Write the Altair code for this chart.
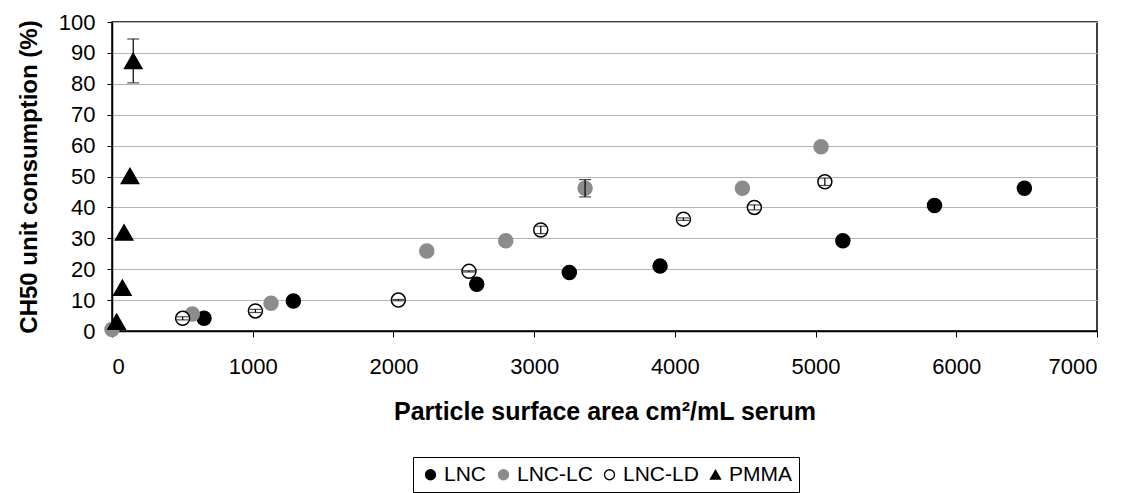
import altair as alt
import pandas as pd

# ---- data ----
series_names = ["LNC", "LNC-LC", "LNC-LD", "PMMA"]

lnc_x = [654, 1289, 2592, 3250, 3895, 5194, 5845, 6484]
lnc_y = [4.1, 9.7, 15.1, 18.9, 21.0, 29.2, 40.6, 46.2]
lnc_err = [0, 0, 0, 0, 0, 0, 0, 0]

lc_x = [0, 571, 1130, 2237, 2798, 3362, 4480, 5039]
lc_y = [0.5, 5.5, 9.0, 25.9, 29.2, 46.2, 46.2, 59.6]
lc_err = [0, 0, 0, 0, 0, 2.8, 0, 0]

ld_x = [502, 1019, 2035, 2537, 3047, 4061, 4565, 5066]
ld_y = [4.1, 6.5, 10.0, 19.3, 32.7, 36.2, 40.0, 48.3]
ld_err = [0.5, 0.5, 0.2, 0.2, 1.2, 0.4, 0.8, 1.2]

pmma_x = [33, 74, 86, 128, 151]
pmma_y = [3.0, 14.0, 31.9, 50.2, 87.4]
pmma_err = [0, 0, 0, 0, 7.1]

x_ticks = [0, 1000, 2000, 3000, 4000, 5000, 6000, 7000]
y_ticks = [0, 10, 20, 30, 40, 50, 60, 70, 80, 90, 100]

rows = []
for name, xs, ys, es in [
    ("LNC", lnc_x, lnc_y, lnc_err),
    ("LNC-LC", lc_x, lc_y, lc_err),
    ("LNC-LD", ld_x, ld_y, ld_err),
    ("PMMA", pmma_x, pmma_y, pmma_err),
]:
    for i, (x, y, e) in enumerate(zip(xs, ys, es)):
        rows.append({"series": name, "x": x, "y": y, "lo": y - e, "hi": y + e,
                     "err": e, "order": len(rows)})
df = pd.DataFrame(rows)
err_df = df[df["err"] > 0]
circ_df = df[df["series"] != "PMMA"]
tri_df = df[df["series"] == "PMMA"]

FONT = "Liberation Sans"

xscale = alt.Scale(domain=[0, 7000], nice=False, zero=False)
yscale = alt.Scale(domain=[0, 100], nice=False)

x_axis = alt.Axis(values=x_ticks, title="Particle surface area cm²/mL serum",
                  grid=False, tickSize=6, labelPadding=19, titlePadding=22,
                  format="d", labelOverlap=False, titleFontSize=25)
y_axis = alt.Axis(values=y_ticks, title="CH50 unit consumption (%)",
                  grid=True, tickSize=5, labelPadding=12, titlePadding=17,
                  labelOverlap=False, titleFontSize=24)


def X(field):
    return alt.X(field, scale=xscale, axis=x_axis)


def Y(field):
    return alt.Y(field, scale=yscale, axis=y_axis)


legend = alt.Legend(
    title=None, orient="none", legendX=301, legendY=435, direction="horizontal",
    strokeColor="black", padding=7, labelFont=FONT, labelFontSize=21,
    labelColor="black", symbolSize=100, columnPadding=6, symbolStrokeWidth=1.3,
    labelOffset=3,
)

style_enc = dict(
    shape=alt.Shape("series:N", scale=alt.Scale(domain=series_names,
                    range=["circle", "circle", "circle", "triangle-up"]),
                    legend=legend),
    fill=alt.Fill("series:N", scale=alt.Scale(domain=series_names,
                  range=["#000000", "#8c8c8c", "#ffffff", "#000000"]),
                  legend=legend),
    stroke=alt.Stroke("series:N", scale=alt.Scale(domain=series_names,
                      range=["#000000", "#8c8c8c", "#000000", "#000000"]),
                      legend=legend),
    order=alt.Order("order:Q"),
)

circles = alt.Chart(circ_df).mark_point(opacity=1, strokeWidth=1.5, size=196).encode(
    x=X("x:Q"), y=Y("y:Q"), **style_enc)
triangles = alt.Chart(tri_df).mark_point(opacity=1, strokeWidth=1.5, size=300).encode(
    x=X("x:Q"), y=Y("y:Q"), **style_enc)

rules = alt.Chart(err_df).mark_rule(color="black", strokeWidth=1.2).encode(
    x=X("x:Q"), y=Y("lo:Q"), y2="hi:Q")
caps_lo = alt.Chart(err_df).mark_tick(color="black", orient="horizontal",
                                       size=12, thickness=1.2).encode(
    x=X("x:Q"), y=Y("lo:Q"))
caps_hi = alt.Chart(err_df).mark_tick(color="black", orient="horizontal",
                                       size=12, thickness=1.2).encode(
    x=X("x:Q"), y=Y("hi:Q"))

chart = alt.layer(circles, triangles, rules, caps_lo, caps_hi).properties(
    width=985, height=309,
    autosize=alt.AutoSizeParams(type="none"),
    padding={"left": 104, "top": 14, "right": 22, "bottom": 162},
).configure_view(
    stroke="black", strokeWidth=1.5
).configure_axis(
    labelFont=FONT, titleFont=FONT, labelFontSize=22,
    titleFontWeight="bold", labelColor="black", titleColor="black",
    domainColor="black", tickColor="black", gridColor="#b4b4b4", gridWidth=1,
    domainWidth=1.5,
)

chart.save("out.html", embed_options={"renderer": "svg", "actions": False})
